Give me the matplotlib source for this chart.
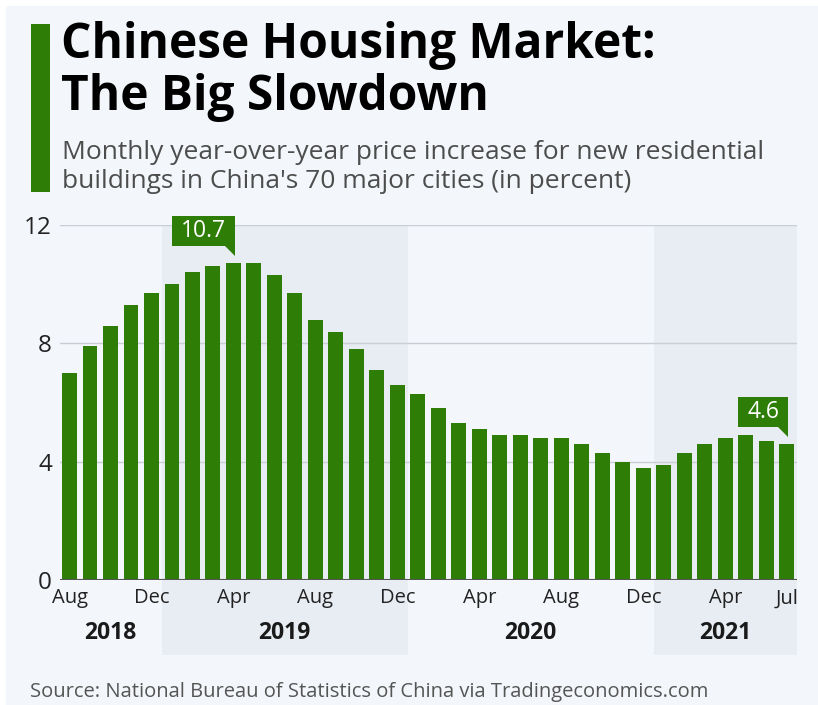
import numpy as np
import matplotlib.pyplot as plt
import matplotlib.transforms as mtransforms
from matplotlib.patches import Rectangle, Polygon

# year-over-year price change, new residential buildings, 70 cities (%)
months = ["Aug", "Sep", "Oct", "Nov", "Dec",
          "Jan", "Feb", "Mar", "Apr", "May", "Jun", "Jul", "Aug", "Sep", "Oct", "Nov", "Dec",
          "Jan", "Feb", "Mar", "Apr", "May", "Jun", "Jul", "Aug", "Sep", "Oct", "Nov", "Dec",
          "Jan", "Feb", "Mar", "Apr", "May", "Jun", "Jul"]
values = [7.0, 7.9, 8.6, 9.3, 9.7,
          10.0, 10.4, 10.6, 10.7, 10.7, 10.3, 9.7, 8.8, 8.4, 7.8, 7.1, 6.6,
          6.3, 5.8, 5.3, 5.1, 4.9, 4.9, 4.8, 4.8, 4.6, 4.3, 4.0, 3.8,
          3.9, 4.3, 4.6, 4.8, 4.9, 4.7, 4.6]
tick_idx = [0, 4, 8, 12, 16, 20, 24, 28, 32, 35]
years = ["2018", "2019", "2020", "2021"]
year_spans = [(0, 4), (5, 16), (17, 28), (29, 35)]
callouts = [(8, "10.7", 63), (35, "4.6", 50)]

GREEN = "#2e7d07"
BG = "#f3f6fa"
BAND = "#e8ecf3"
W, H = 818, 705

plt.rcParams["font.family"] = ["Open Sans", "DejaVu Sans"]

fig = plt.figure(figsize=(W / 100, H / 100), dpi=100)
fig.patch.set_facecolor("white")
fig.patches.append(Rectangle((6 / W, 0), 1, 1 - 6 / H, transform=fig.transFigure,
                             facecolor=BG, edgecolor="none", zorder=-10))

# header
fig.patches.append(Rectangle((31 / W, 1 - 192 / H), 19 / W, 168 / H, transform=fig.transFigure,
                             facecolor=GREEN, edgecolor="none"))
fig.text(61 / W, 1 - 58 / H, "Chinese Housing Market:", fontsize=34.5, fontweight="bold",
         va="baseline", ha="left", color="black")
fig.text(61 / W, 1 - 110 / H, "The Big Slowdown", fontsize=34.5, fontweight="bold",
         va="baseline", ha="left", color="black")
fig.text(62 / W, 1 - 159 / H, "Monthly year-over-year price increase for new residential",
         fontsize=19, va="baseline", ha="left", color="#4d4d4d")
fig.text(62 / W, 1 - 188 / H, "buildings in China's 70 major cities (in percent)",
         fontsize=19, va="baseline", ha="left", color="#4d4d4d")

ax = fig.add_axes([60.3 / W, 1 - 580 / H, (797 - 60.3) / W, 355 / H])
ax.set_facecolor("none")
x = np.arange(len(values))

# alternating year bands
for k, (a, b) in enumerate(year_spans):
    if k % 2 == 1:
        ax.axvspan(a - 0.5, b + 0.5, ymin=-75 / 355, ymax=1, facecolor=BAND,
                   edgecolor="none", zorder=0, clip_on=False)
    ax.text((a + b) / 2, -53 / 355, years[k], transform=ax.get_xaxis_transform(),
            ha="center", va="center", fontsize=16.5, fontweight="bold", color="#1a1a1a")

ax.bar(x, values, width=0.73, color=GREEN, zorder=3)

ax.set_xlim(-0.45, 35.5)
ax.set_ylim(0, 12)
ax.set_yticks([0, 4, 8, 12])
ax.yaxis.grid(True, color="#c9cdd4", linewidth=1, zorder=1)
ax.axhline(0, color="#555555", linewidth=1.5, zorder=4)
ax.set_xticks(tick_idx)
ax.set_xticklabels([months[i] for i in tick_idx])
ax.tick_params(axis="x", length=0, pad=6, labelsize=14.5, labelcolor="#222222")
ax.tick_params(axis="y", length=0, pad=6, labelsize=17.5, labelcolor="#222222")
for s in ax.spines.values():
    s.set_visible(False)

# value callouts with a small pointer towards the bar
for i, label, bw in callouts:
    tr = fig.dpi_scale_trans + mtransforms.ScaledTranslation(i, values[i], ax.transData)
    gap, tri_h, box_h = 0.07, 0.10, 0.30
    w = bw / 100
    ax.add_patch(Rectangle((-w + 0.015, gap + tri_h), w, box_h, transform=tr,
                           facecolor=GREEN, edgecolor="none", zorder=5, clip_on=False))
    ax.add_patch(Polygon([(0.015, gap), (0.015, gap + tri_h + 0.01), (-0.095, gap + tri_h + 0.01)],
                         transform=tr, facecolor=GREEN, edgecolor="none", zorder=5, clip_on=False))
    ax.text(-w / 2 + 0.015, gap + tri_h + box_h / 2, label, transform=tr, ha="center", va="center",
            fontsize=16.5, color="white", zorder=6)

fig.text(30 / W, 1 - 692 / H, "Source: National Bureau of Statistics of China via Tradingeconomics.com",
         fontsize=14.5, va="center", ha="left", color="#555555")

fig.savefig("out.png", dpi=100, facecolor=fig.get_facecolor())
